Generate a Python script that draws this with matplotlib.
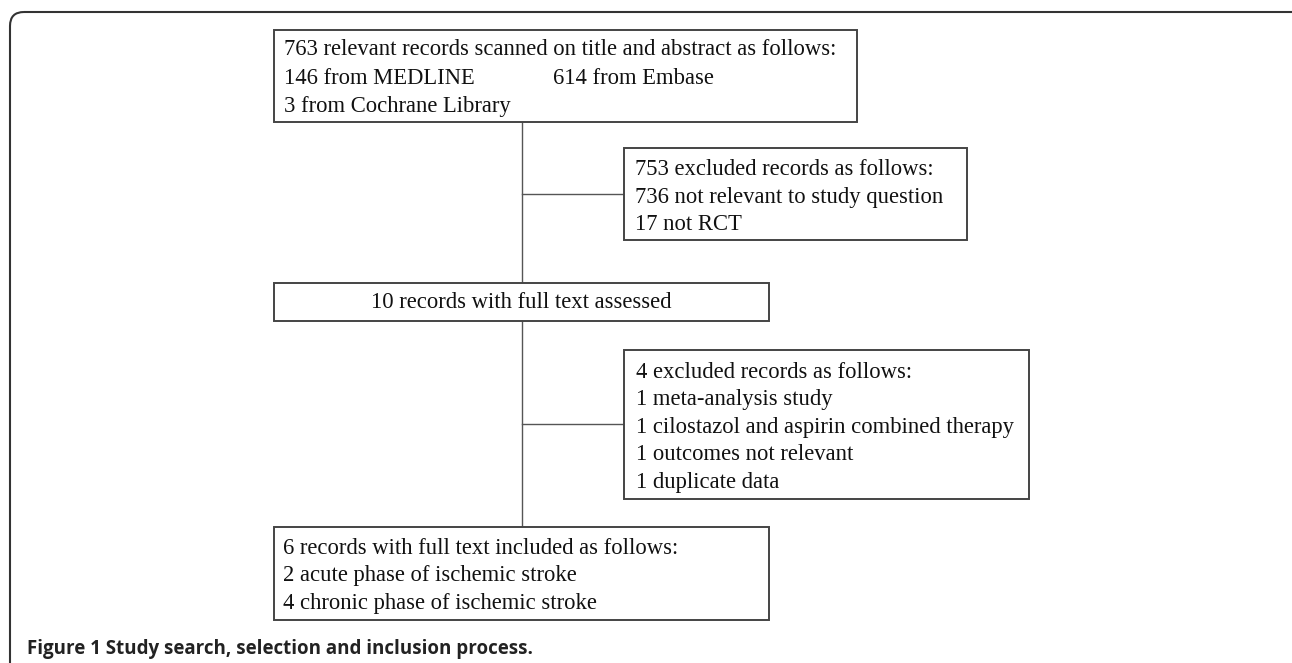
import matplotlib.pyplot as plt
from matplotlib.patches import Rectangle, FancyBboxPatch

# box contents (one list of lines per box)
top_lines = ["763 relevant records scanned on title and abstract as follows:",
             "146 from MEDLINE",
             "3 from Cochrane Library"]
top_extra = "614 from Embase"
excl1_lines = ["753 excluded records as follows:",
               "736 not relevant to study question",
               "17 not RCT"]
mid_lines = ["10 records with full text assessed"]
excl2_lines = ["4 excluded records as follows:",
               "1 meta-analysis study",
               "1 cilostazol and aspirin combined therapy",
               "1 outcomes not relevant",
               "1 duplicate data"]
final_lines = ["6 records with full text included as follows:",
               "2 acute phase of ischemic stroke",
               "4 chronic phase of ischemic stroke"]
caption = "Figure 1 Study search, selection and inclusion process."

W, H = 1292, 663
fig = plt.figure(figsize=(W / 100, H / 100), dpi=100)
ax = fig.add_axes([0, 0, 1, 1])
ax.set_xlim(0, W)
ax.set_ylim(H, 0)
ax.axis('off')

# outer rounded frame (bottom runs off the image)
frame = FancyBboxPatch((10, 12), 1300, 700,
                       boxstyle="round,pad=0,rounding_size=14",
                       fill=False, edgecolor='#333333', linewidth=1.5,
                       clip_on=True)
ax.add_patch(frame)

box_kw = dict(facecolor='white', edgecolor='#444444', linewidth=1.4, zorder=3)
line_kw = dict(color='#555555', linewidth=1.0, zorder=1)
txt_kw = dict(family='Liberation Serif', fontsize=16.3, color='#111111',
              va='baseline', ha='left', zorder=4)


def draw_box(x0, y0, x1, y1, lines, tx, ty0, dy=27.5, ha='left'):
    ax.add_patch(Rectangle((x0, y0), x1 - x0, y1 - y0, **box_kw))
    for i, s in enumerate(lines):
        ax.text(tx, ty0 + i * dy, s, **{**txt_kw, 'ha': ha})


# connectors
cx = 522
ax.plot([cx, cx], [122, 527], **line_kw)
ax.plot([cx, 624], [194, 194], **line_kw)
ax.plot([cx, 624], [424, 424], **line_kw)

draw_box(274, 30, 857, 122, top_lines, 284, 55, dy=28.5)
ax.text(553, 83.5, top_extra, **txt_kw)
draw_box(624, 148, 967, 240, excl1_lines, 635, 175)
draw_box(274, 283, 769, 321, mid_lines, 521.5, 308, ha='center')
draw_box(624, 350, 1029, 499, excl2_lines, 636, 378)
draw_box(274, 527, 769, 620, final_lines, 283, 554)

ax.text(27, 654, caption, family='Open Sans', fontweight='bold',
        fontsize=13.5, color='#222222', va='baseline', ha='left')

fig.savefig('out.png', dpi=100)
